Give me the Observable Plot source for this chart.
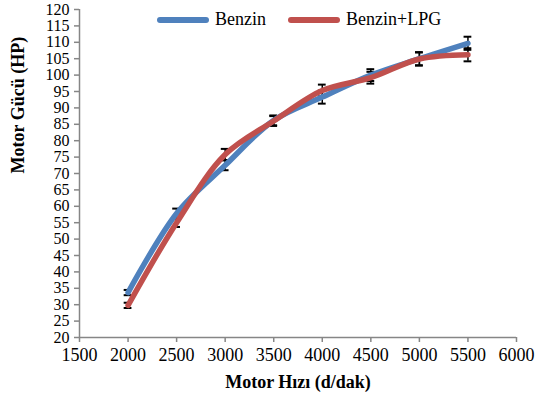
<!DOCTYPE html>
<html><head><meta charset="utf-8">
<script src="https://cdn.jsdelivr.net/npm/d3@7"></script>
<script src="https://cdn.jsdelivr.net/npm/@observablehq/plot@0.6"></script>
<style>
body{margin:0;background:#fff;font-family:"Liberation Serif","Times New Roman",serif;}
#wrap{position:relative;width:536px;height:402px;}
#legend{position:absolute;top:9px;left:157px;display:flex;align-items:center;font-size:18px;color:#000;}
.item{display:flex;align-items:center;margin-right:22px;}
.sw{width:52px;height:6px;border-radius:3px;margin-right:6px;}
</style></head>
<body><div id="wrap"><div id="legend"></div></div>
<script>
const rpm = [2000, 2500, 3000, 3500, 4000, 4500, 5000, 5500];
const benzin = [33.7, 57.8, 72.5, 86.2, 93.3, 100.0, 105.0, 109.7];
const benzinLPG = [29.8, 55.0, 75.8, 86.0, 95.3, 99.2, 104.9, 106.2];
const errBenzin = [0.8, 1.5, 1.5, 1.5, 2.0, 1.8, 2.0, 2.0];
const errLPG = [0.8, 1.3, 1.7, 1.5, 1.8, 1.8, 2.0, 2.0];
const seriesNames = ["Benzin", "Benzin+LPG"];
const colors = ["#4F81BD", "#C0504D"];
const xTicks = [1500, 2000, 2500, 3000, 3500, 4000, 4500, 5000, 5500, 6000];
const yTicks = d3.range(20, 121, 5);

const rows = [];
rpm.forEach((x, i) => {
  rows.push({series: seriesNames[0], x, y: benzin[i], e: errBenzin[i]});
  rows.push({series: seriesNames[1], x, y: benzinLPG[i], e: errLPG[i]});
});
const capHalf = 40;
const axisColor = "#868686";

const chart = Plot.plot({
  width: 536, height: 402,
  marginLeft: 79, marginRight: 20, marginTop: 9, marginBottom: 65,
  style: {fontFamily: "'Liberation Serif','Times New Roman',serif", fontSize: "18px", color: "#000", background: "#fff"},
  x: {domain: [1500, 6000]},
  y: {domain: [20, 120]},
  color: {domain: seriesNames, range: colors},
  marks: [
    Plot.ruleX(rows, {x: "x", y1: d => d.y - d.e, y2: d => d.y + d.e, stroke: "#000", strokeWidth: 1.5}),
    Plot.ruleY(rows, {y: d => d.y - d.e, x1: d => d.x - capHalf, x2: d => d.x + capHalf, stroke: "#000", strokeWidth: 2}),
    Plot.ruleY(rows, {y: d => d.y + d.e, x1: d => d.x - capHalf, x2: d => d.x + capHalf, stroke: "#000", strokeWidth: 2}),
    Plot.line(rows, {x: "x", y: "y", z: "series", stroke: "series", strokeWidth: 5.5, curve: "catmull-rom", strokeLinecap: "round"}),
    Plot.ruleX([1500], {stroke: axisColor, strokeWidth: 1.5}),
    Plot.ruleY([20], {stroke: axisColor, strokeWidth: 1.5}),
    Plot.axisY({ticks: yTicks, tickSize: 5, tickPadding: 5, stroke: axisColor, strokeWidth: 1.5, label: null, fontSize: 16}),
    Plot.axisX({ticks: xTicks, tickSize: 5, tickPadding: 6, stroke: axisColor, strokeWidth: 1.5, label: null, fontSize: 18, tickFormat: d => String(d)}),
    Plot.text(["Motor Hızı (d/dak)"], {frameAnchor: "bottom", dy: 50, fontWeight: "bold", fontSize: 18}),
    Plot.text(["Motor Gücü (HP)"], {frameAnchor: "left", dx: -61, rotate: -90, fontWeight: "bold", fontSize: 18})
  ]
});
const wrap = document.getElementById("wrap");
wrap.insertBefore(chart, wrap.firstChild);
const legend = document.getElementById("legend");
seriesNames.forEach((n, i) => {
  const it = document.createElement("div"); it.className = "item";
  const sw = document.createElement("div"); sw.className = "sw"; sw.style.background = colors[i];
  const t = document.createElement("span"); t.textContent = n;
  it.appendChild(sw); it.appendChild(t); legend.appendChild(it);
});
</script></body></html>
